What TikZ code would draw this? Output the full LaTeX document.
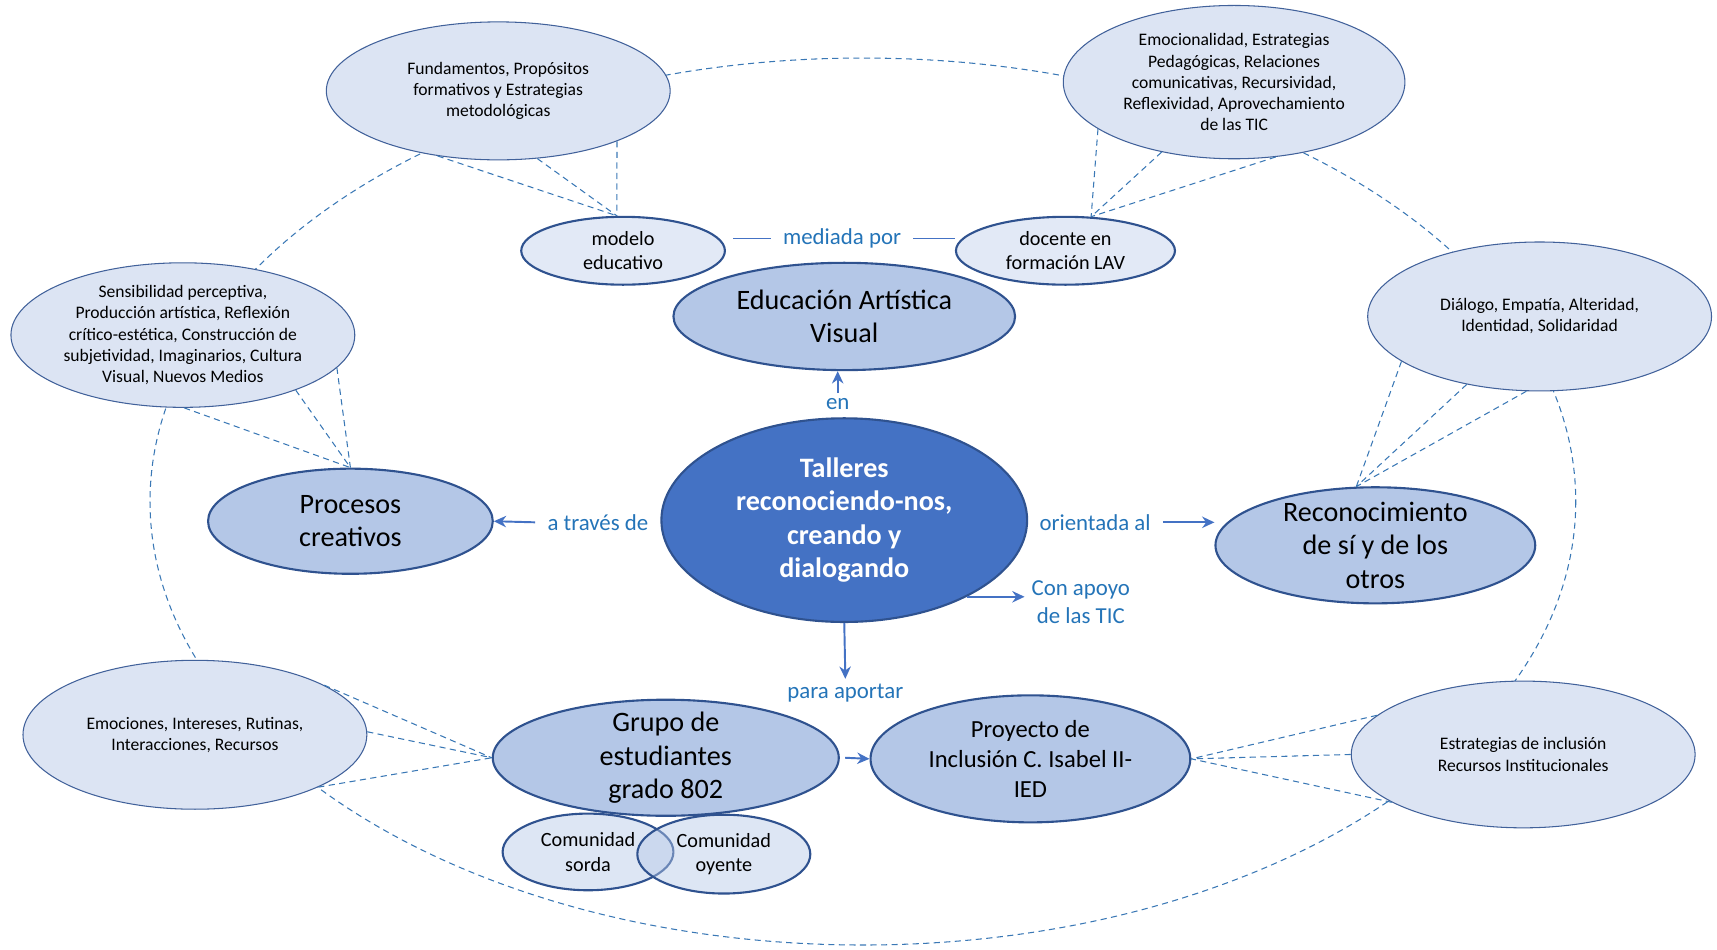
\documentclass[tikz,border=0pt]{standalone}
\usepackage{fontspec}
\setmainfont{Carlito}
\usepackage{xcolor}
\usetikzlibrary{shapes.geometric,arrows.meta,calc}

\definecolor{cClaro}{HTML}{DCE4F3}
\definecolor{cSuave}{HTML}{E2E9F6}
\definecolor{cMedio}{HTML}{B4C7E7}
\definecolor{cFuerte}{HTML}{4472C4}
\definecolor{cBorde}{HTML}{2F528F}
\definecolor{cBordeExt}{HTML}{41619A}
\definecolor{cTexto}{HTML}{2474B8}
\definecolor{cFlecha}{HTML}{4472C4}
\definecolor{cRaya}{HTML}{3A78B5}

\begin{document}
\begin{tikzpicture}[x=0.0219cm, y=-0.0219cm, line join=round,
	ell/.style 2 args={ellipse, inner sep=0pt, align=center,
		minimum width=#1*0.0438cm, minimum height=#2*0.0438cm},
	externo/.style={draw=cBordeExt, line width=0.6pt, fill=cClaro,
		font=\fontsize{10}{12}\selectfont},
	suave/.style={draw=cBorde, line width=1.2pt, fill=cSuave,
		font=\fontsize{11.5}{13.8}\selectfont},
	central/.style={draw=cBorde, line width=1.2pt, fill=cMedio,
		font=\fontsize{16}{19}\selectfont},
	taller/.style={draw=cBorde, line width=1.2pt, fill=cFuerte, text=white,
		font=\fontsize{16}{19}\selectfont\bfseries},
	comu/.style={draw=cBorde, line width=1.2pt, fill=cMedio, fill opacity=0.45,
		text opacity=1, font=\fontsize{11.5}{13.8}\selectfont},
	lbl/.style={text=cTexto, font=\fontsize{13}{16}\selectfont, align=center,
		inner sep=2pt, outer sep=5pt},
	rel/.style={draw=cRaya, line width=0.6pt, dash pattern=on 3.5pt off 2.5pt},
	flecha/.style={draw=cFlecha, line width=1.1pt, -{Stealth[length=7pt,width=6.5pt]}},
	linea/.style={draw=cFlecha, line width=0.8pt}]
	
	\useasboundingbox (0,0) rectangle (1568,867);
	
	%====================
	% 1) 外圈虚线椭圆
	%====================
	\draw[rel] (788,458) ellipse [x radius=651, y radius=405];
	
	%====================
	% 2) 外圈六个椭圆
	%====================
	\node[externo, ell={157}{63}] (fund) at (455,83)
		{Fundamentos, Propósitos\\formativos y Estrategias\\metodológicas};
	\node[externo, ell={156}{70}] (emoc) at (1127,75)
		{Emocionalidad, Estrategias\\Pedagógicas, Relaciones\\comunicativas, Recursividad,\\Reflexividad, Aprovechamiento\\de las TIC};
	\node[externo, ell={157}{66}] (sens) at (167,306)
		{Sensibilidad perceptiva,\\Producción artística, Reflexión\\crítico-estética, Construcción de\\subjetividad, Imaginarios, Cultura\\Visual, Nuevos Medios};
	\node[externo, ell={157}{68}] (dial) at (1406,289)
		{Diálogo, Empatía, Alteridad,\\Identidad, Solidaridad};
	\node[externo, ell={157}{68}] (emoci) at (178,671)
		{Emociones, Intereses, Rutinas,\\Interacciones, Recursos};
	\node[externo, ell={157}{67}] (estr) at (1391,689)
		{Estrategias de inclusión\\Recursos Institucionales};
	
	%====================
	% 3) 中间各椭圆
	%====================
	\node[suave, ell={93}{31}] (modelo) at (569,229) {modelo\\educativo};
	\node[suave, ell={100}{31}] (docente) at (973,229) {docente en\\formación LAV};
	
	\node[central, ell={156}{49}] (eav) at (771,289) {Educación Artística\\Visual};
	\node[central, ell={130}{48}] (proc) at (320,476) {Procesos\\creativos};
	\node[central, ell={146}{53}, inner ysep=-5pt] (recon) at (1256,498)
		{Reconocimiento\\de sí y de los\\otros};
	\node[central, ell={158}{53}, inner ysep=-5pt] (grupo) at (608,692)
		{Grupo de\\estudiantes\\grado 802};
	\node[central, ell={146}{58}, font=\fontsize{14}{17}\selectfont] (proy) at (941,693)
		{Proyecto de\\Inclusión C. Isabel II-\\IED};
	
	\node[taller, ell={167}{93}] (taller) at (771,475)
		{Talleres\\reconociendo-nos,\\creando y\\dialogando};
	
	\node[comu, ell={78}{35}] (sorda) at (537,778) {Comunidad\\sorda};
	\node[comu, ell={79}{36}] (oyente) at (661,780) {Comunidad\\oyente};
	
	%====================
	% 4) 连接文字
	%====================
	\node[lbl] (mediada) at (769,218) {mediada por};
	\node[lbl, outer sep=1pt] (en) at (765,369) {en};
	\node[lbl] (traves) at (546,477) {a través de};
	\node[lbl] (orient) at (1000,477) {orientada al};
	\node[lbl, outer sep=2pt] (tic) at (987,550) {Con apoyo\\de las TIC};
	\node[lbl, outer sep=1pt] (aportar) at (772,633) {para aportar};
	
	%====================
	% 5) 箭头与实线
	%====================
	\draw[linea, shorten >=4pt] (mediada.west) -- (mediada.west -| modelo.east);
	\draw[linea] (mediada.east) -- (mediada.east -| docente.west);
	
	\draw[flecha] (en.north) -- (en.north |- eav.south);
	\draw[flecha] (traves.west) -- (proc.east);
	\draw[flecha] (orient.east) -- (orient.east -| recon.west);
	\draw[flecha] (taller.-32) -- (taller.-32 -| tic.west);
	\draw[flecha] (taller.south) -- (aportar.north);
	\draw[flecha] ([xshift=3pt]grupo.east) -- (proy.west);
	
	%====================
	% 6) 虚线关系
	%====================
	\draw[rel] (fund.-133) -- (modelo.100);
	\draw[rel] (fund.-60) -- (modelo.100);
	\draw[rel] (fund.-23) -- (modelo.100);
	
	\draw[rel] (emoc.-161) -- (docente.53);
	\draw[rel] (emoc.-136) -- (docente.53);
	\draw[rel] (emoc.-61) -- (docente.53);
	
	\draw[rel] (sens.-89) -- (proc.north);
	\draw[rel] (sens.-26) -- (proc.north);
	\draw[rel] (sens.-12) -- (proc.north);
	
	\draw[rel] (dial.-162) -- (recon.108);
	\draw[rel] (dial.-137) -- (recon.108);
	\draw[rel] (dial.-100) -- (recon.108);
	
	\draw[rel] (emoci.21) -- (grupo.west);
	\draw[rel] (emoci.1) -- (grupo.west);
	\draw[rel] (emoci.-23) -- (grupo.west);
	
	\draw[rel] (estr.165) -- (proy.east);
	\draw[rel] (estr.180) -- (proy.east);
	\draw[rel] (estr.-160) -- (proy.east);
	
\end{tikzpicture}
\end{document}
